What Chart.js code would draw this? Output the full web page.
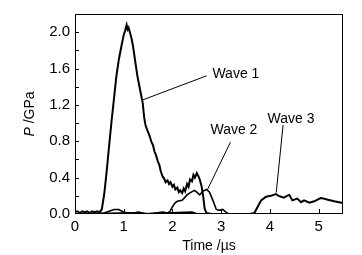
<!DOCTYPE html>
<html>
<head>
<meta charset="utf-8">
<script src="https://cdn.jsdelivr.net/npm/chart.js@4.4.0/dist/chart.umd.min.js"></script>
<style>
  html, body { margin: 0; padding: 0; background: #fff; }
</style>
</head>
<body>
<canvas id="c" width="362" height="255"></canvas>
<script>
// pressure traces: [time (us), P (GPa)]
const wave1 = [
  [0,0.02],[0.05,0.03],[0.1,0.01],[0.15,0.03],[0.2,0.02],[0.25,0.03],[0.3,0.01],[0.35,0.03],
  [0.4,0.02],[0.45,0.03],[0.5,0.02],[0.55,0.05],[0.6,0.22],[0.65,0.47],[0.7,0.75],[0.75,1.02],
  [0.8,1.27],[0.85,1.52],[0.9,1.7],[0.95,1.84],[1.0,1.97],[1.03,2.02],[1.06,2.08],[1.08,2.03],
  [1.1,2.05],[1.13,1.99],[1.16,1.93],[1.19,1.85],[1.23,1.7],[1.28,1.52],[1.33,1.38],[1.39,1.22],
  [1.42,1.06],[1.45,0.97],[1.5,0.9],[1.53,0.86],[1.57,0.79],[1.6,0.76],[1.63,0.69],[1.66,0.65],
  [1.7,0.58],[1.73,0.54],[1.76,0.47],[1.8,0.41],[1.83,0.39],[1.86,0.35],[1.9,0.37],[1.93,0.33],
  [1.96,0.35],[2.0,0.3],[2.03,0.32],[2.06,0.27],[2.1,0.29],[2.13,0.24],[2.16,0.26],[2.2,0.23],
  [2.23,0.28],[2.26,0.25],[2.3,0.33],[2.33,0.3],[2.36,0.38],[2.4,0.36],[2.43,0.43],[2.46,0.4],
  [2.5,0.45],[2.53,0.42],[2.56,0.38],[2.6,0.3],[2.63,0.2],[2.66,0.06],[2.7,0.01],[2.8,0],
  [3.5,0],[4.5,0],[5.5,0]
];
const wave2 = [
  [0,0],[0.6,0.01],[0.7,0.03],[0.8,0.05],[0.9,0.05],[1.0,0.02],[1.1,0.01],[1.2,0.01],[1.3,0.02],
  [1.4,0.01],[1.5,0],[1.8,0.02],[1.9,0.01],[1.95,0.03],[2.0,0.08],[2.05,0.12],[2.1,0.14],
  [2.2,0.15],[2.3,0.21],[2.35,0.23],[2.45,0.26],[2.5,0.24],[2.56,0.21],[2.62,0.25],[2.7,0.27],
  [2.76,0.24],[2.83,0.15],[2.9,0.05],[2.96,0.04],[3.03,0.05],[3.1,0.02],[3.15,0],[5.5,0]
];
const wave3 = [
  [0,0],[1.3,0.01],[1.4,0],[2.4,0.02],[2.5,0],[3.6,0],[3.68,0.01],[3.75,0.08],[3.82,0.15],
  [3.92,0.19],[4.02,0.2],[4.12,0.22],[4.18,0.2],[4.23,0.19],[4.29,0.18],[4.35,0.2],[4.4,0.21],
  [4.46,0.15],[4.56,0.17],[4.64,0.13],[4.7,0.15],[4.81,0.125],[4.91,0.14],[5.04,0.175],
  [5.1,0.17],[5.17,0.16],[5.32,0.14],[5.42,0.13],[5.5,0.12]
];

const xTickValues = [0, 1, 2, 3, 4, 5];
const xTickLabels = ['0', '1', '2', '3', '4', '5'];
const yTickValues = [0, 0.4, 0.8, 1.2, 1.6, 2.0];
const yTickLabels = ['0.0', '0.4', '0.8', '1.2', '1.6', '2.0'];
const waveNames = ['Wave 1', 'Wave 2', 'Wave 3'];

// callout text anchor and leader line, in data units
const callouts = [
  { text: waveNames[0], at: [2.82, 1.54], from: [2.70, 1.52], to: [1.39, 1.255] },
  { text: waveNames[1], at: [2.78, 0.92], from: [3.19, 0.79], to: [2.72, 0.27] },
  { text: waveNames[2], at: [3.95, 1.04], from: [4.27, 0.98], to: [4.13, 0.235] }
];

const FONT = '"Liberation Sans", Arial, sans-serif';

function toPoints(arr) {
  return arr.map(p => ({ x: p[0], y: p[1] }));
}

const framePlugin = {
  id: 'frame',
  afterDatasetsDraw(chart) {
    const { ctx, chartArea: a, scales } = chart;
    const xs = scales.x, ys = scales.y;
    ctx.save();
    ctx.strokeStyle = '#000';
    ctx.lineWidth = 1;
    ctx.strokeRect(a.left + 0.5, a.top + 0.5, a.right - a.left - 1, a.bottom - a.top - 1);

    // inward tick marks (y gets minor ones halfway)
    ctx.beginPath();
    xTickValues.slice(1).forEach(v => {
      const px = Math.round(xs.getPixelForValue(v)) + 0.5;
      ctx.moveTo(px, a.bottom);
      ctx.lineTo(px, a.bottom - 5);
    });
    for (let i = 1; i <= 10; i++) {
      const py = Math.round(ys.getPixelForValue(i * 0.2)) + 0.5;
      ctx.moveTo(a.left, py);
      ctx.lineTo(a.left + 4, py);
    }
    ctx.stroke();

    // callouts
    ctx.fillStyle = '#000';
    ctx.font = '14px ' + FONT;
    ctx.textBaseline = 'middle';
    ctx.textAlign = 'left';
    callouts.forEach(c => {
      ctx.beginPath();
      ctx.moveTo(xs.getPixelForValue(c.from[0]), ys.getPixelForValue(c.from[1]));
      ctx.lineTo(xs.getPixelForValue(c.to[0]), ys.getPixelForValue(c.to[1]));
      ctx.stroke();
      ctx.fillText(c.text, xs.getPixelForValue(c.at[0]), ys.getPixelForValue(c.at[1]));
    });

    // y title with italic P
    const cy = (a.top + a.bottom) / 2;
    ctx.translate(30, cy);
    ctx.rotate(-Math.PI / 2);
    ctx.font = 'italic 14px ' + FONT;
    const w1 = ctx.measureText('P').width;
    ctx.font = '14px ' + FONT;
    const w2 = ctx.measureText(' /GPa').width;
    const start = -(w1 + w2) / 2;
    ctx.font = 'italic 14px ' + FONT;
    ctx.fillText('P', start, 0);
    ctx.font = '14px ' + FONT;
    ctx.fillText(' /GPa', start + w1, 0);
    ctx.restore();
  }
};

new Chart(document.getElementById('c'), {
  type: 'line',
  data: {
    datasets: [
      { label: waveNames[0], data: toPoints(wave1), borderColor: '#000', borderWidth: 2, pointRadius: 0, tension: 0 },
      { label: waveNames[1], data: toPoints(wave2), borderColor: '#000', borderWidth: 1.6, pointRadius: 0, tension: 0 },
      { label: waveNames[2], data: toPoints(wave3), borderColor: '#000', borderWidth: 2, pointRadius: 0, tension: 0 }
    ]
  },
  options: {
    responsive: false,
    animation: false,
    layout: { padding: { top: 8, right: 19, left: 0, bottom: 0 } },
    plugins: { legend: { display: false }, tooltip: { enabled: false } },
    scales: {
      x: {
        type: 'linear',
        min: 0, max: 5.5,
        grid: { display: false, drawTicks: false },
        border: { display: false },
        afterBuildTicks: (s) => { s.ticks = xTickValues.map(v => ({ value: v })); },
        ticks: {
          padding: 4, color: '#000', maxRotation: 0, autoSkip: false,
          font: { family: FONT, size: 15 },
          callback: (v, i) => xTickLabels[i]
        },
        title: {
          display: true, text: 'Time /µs', color: '#000',
          font: { family: FONT, size: 14 }, padding: { top: 1, bottom: 0 }
        },
        afterFit: (s) => { s.height = 41; }
      },
      y: {
        min: 0, max: 2.2,
        grid: { display: false, drawTicks: false },
        border: { display: false },
        afterBuildTicks: (s) => { s.ticks = yTickValues.map(v => ({ value: v })); },
        ticks: {
          padding: 5, color: '#000', autoSkip: false,
          font: { family: FONT, size: 15 },
          callback: (v, i) => yTickLabels[i]
        },
        afterFit: (s) => { s.width = 75; }
      }
    }
  },
  plugins: [framePlugin]
});
</script>
</body>
</html>
